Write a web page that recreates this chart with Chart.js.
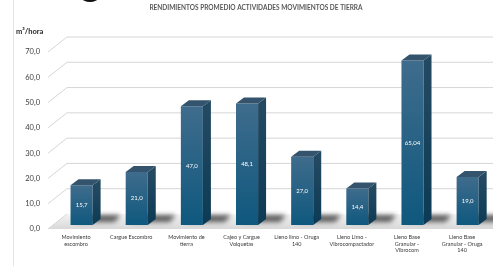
<!DOCTYPE html>
<html>
<head>
<meta charset="utf-8">
<script src="https://cdn.jsdelivr.net/npm/chart.js@4.4.1/dist/chart.umd.min.js"></script>
<style>
  html, body { margin: 0; padding: 0; background: #fff; overflow: hidden; }
  #wrap { position: relative; width: 497px; height: 266px; }
</style>
</head>
<body>
<div id="wrap"><canvas id="chart"></canvas></div>
<script>
// chart data
const categories = [
  ['Movimiento', 'escombro'],
  ['Cargue Escombro'],
  ['Movimiento de', 'tierra'],
  ['Cajeo y Cargue', 'Volquetas'],
  ['Lleno limo - Oruga', '140'],
  ['Lleno Limo -', 'Vibrocompactador'],
  ['Lleno Base', 'Granular -', 'Vibrocom'],
  ['Lleno Base', 'Granular - Oruga', '140']
];
const rendimiento = [15.7, 21.0, 47.0, 48.1, 27.0, 14.4, 65.04, 19.0];
const yTicks = [0, 10, 20, 30, 40, 50, 60, 70];

const FONT = 'Lato, "Open Sans", sans-serif';
// 3D offsets
const DEPTH = { dx: 19, dy: -15 };   // whole floor/wall depth
const BAR_D = { dx: 8, dy: -6 };     // bar side/top depth
const FRONT = { dx: -5.5, dy: 4 };   // front plane vs bar front face

function fmt(v) {
  const s = Number.isInteger(v) ? v.toFixed(1) : String(v);
  return s.replace('.', ',');
}

const scene3d = {
  id: 'scene3d',
  beforeDraw(chart) {
    const c = chart.ctx;
    c.save();
    // left border line + logo fragment
    c.strokeStyle = '#e4e4e4';
    c.lineWidth = 1;
    c.beginPath(); c.moveTo(13.5, 0); c.lineTo(13.5, 266); c.stroke();
    c.fillStyle = '#111';
    c.beginPath(); c.ellipse(90, -2, 8, 4, 0, 0, Math.PI * 2); c.fill();
    // title texts
    c.fillStyle = '#595959';
    c.font = 'bold 6.5px ' + FONT;
    c.textAlign = 'center'; c.textBaseline = 'middle';
    c.fillText('RENDIMIENTOS PROMEDIO ACTIVIDADES MOVIMIENTOS DE TIERRA', 256, 8);
    c.fillStyle = '#262626';
    c.font = 'bold 7.5px ' + FONT;
    c.textAlign = 'left';
    c.fillText('m³/hora', 16, 31.5);
    c.restore();
  },
  beforeDatasetsDraw(chart) {
    const c = chart.ctx;
    const ys = chart.scales.y;
    const xs = chart.scales.x;
    const W = chart.width;
    const fx = 48;
    c.save();
    // floor
    const y0 = ys.getPixelForValue(0) + FRONT.dy;
    const fg = c.createLinearGradient(0, y0 + DEPTH.dy, 0, y0);
    fg.addColorStop(0, '#f4f4f4');
    fg.addColorStop(1, '#d8d8d8');
    c.fillStyle = fg;
    c.beginPath();
    c.moveTo(fx, y0);
    c.lineTo(fx + DEPTH.dx, y0 + DEPTH.dy);
    c.lineTo(W, y0 + DEPTH.dy);
    c.lineTo(W, y0);
    c.closePath();
    c.fill();
    // bar shadows on floor
    c.filter = 'blur(2.5px)';
    c.fillStyle = 'rgba(40,40,40,0.75)';
    const meta = chart.getDatasetMeta(0);
    meta.data.forEach(bar => {
      const r = bar.x + bar.width / 2;
      const l = bar.x - bar.width / 2;
      const b = bar.base;
      c.beginPath();
      c.moveTo(l + 4, b - 3);
      c.lineTo(r + 22, b - 3);
      c.lineTo(r + 28, b - 10);
      c.lineTo(l + 10, b - 10);
      c.closePath();
      c.fill();
    });
    c.filter = 'none';
    // grid lines: diagonal on the side + horizontal on the back wall
    c.strokeStyle = '#d6d6d6';
    c.lineWidth = 1;
    yTicks.forEach(v => {
      const y = ys.getPixelForValue(v) + FRONT.dy;
      c.beginPath();
      c.moveTo(fx, y);
      c.lineTo(fx + DEPTH.dx, y + DEPTH.dy);
      if (v > 0) c.lineTo(W, y + DEPTH.dy);
      c.stroke();
    });
    c.restore();
  },
  afterDatasetsDraw(chart) {
    const c = chart.ctx;
    const meta = chart.getDatasetMeta(0);
    c.save();
    meta.data.forEach((bar, i) => {
      const l = bar.x - bar.width / 2;
      const r = bar.x + bar.width / 2;
      const t = bar.y;
      const b = bar.base;
      // side face
      const sg = c.createLinearGradient(0, t, 0, b);
      sg.addColorStop(0, '#244a62');
      sg.addColorStop(1, '#0c3a54');
      c.fillStyle = sg;
      c.beginPath();
      c.moveTo(r, t);
      c.lineTo(r + BAR_D.dx, t + BAR_D.dy);
      c.lineTo(r + BAR_D.dx, b + BAR_D.dy);
      c.lineTo(r, b);
      c.closePath();
      c.fill();
      // top face
      c.fillStyle = '#33546c';
      c.beginPath();
      c.moveTo(l, t);
      c.lineTo(l + BAR_D.dx, t + BAR_D.dy);
      c.lineTo(r + BAR_D.dx, t + BAR_D.dy);
      c.lineTo(r, t);
      c.closePath();
      c.fill();
      // value label
      c.fillStyle = '#ffffff';
      c.font = '6px ' + FONT;
      c.textAlign = 'center';
      c.textBaseline = 'middle';
      c.fillText(fmt(rendimiento[i]), bar.x, (t + b) / 2);
    });
    c.restore();
  }
};

new Chart(document.getElementById('chart'), {
  type: 'bar',
  data: {
    labels: categories,
    datasets: [{
      data: rendimiento,
      backgroundColor(ctx) {
        const chart = ctx.chart;
        const ys = chart.scales.y;
        if (!chart.chartArea || !ys) return '#1a5b80';
        const top = ys.getPixelForValue(ctx.raw);
        const bot = ys.getPixelForValue(0);
        const g = chart.ctx.createLinearGradient(0, top, 0, bot);
        g.addColorStop(0, '#3f6c8c');
        g.addColorStop(1, '#0f587e');
        return g;
      },
      borderWidth: 0,
      categoryPercentage: 1,
      barPercentage: 0.4
    }]
  },
  options: {
    responsive: true,
    maintainAspectRatio: false,
    animation: false,
    layout: { padding: { top: 48, left: 0, right: 0, bottom: 0 } },
    plugins: {
      legend: { display: false },
      tooltip: { enabled: false }
    },
    scales: {
      x: {
        grid: { display: false, drawTicks: false },
        border: { display: false },
        afterFit(scale) { scale.height = 41; },
        ticks: {
          autoSkip: false,
          maxRotation: 0,
          minRotation: 0,
          padding: 9,
          labelOffset: FRONT.dx,
          color: '#3a3a3a',
          font: { family: FONT, size: 5.5 },
          lineHeight: 1.45
        }
      },
      y: {
        min: 0,
        max: 70,
        afterFit(scale) { scale.width = 54; },
        afterBuildTicks(scale) { scale.ticks = yTicks.map(v => ({ value: v })); },
        grid: { display: false, drawTicks: false },
        border: { display: false },
        ticks: {
          padding: 14,
          labelOffset: FRONT.dy,
          color: '#404040',
          font: { family: FONT, size: 7.5 },
          callback: v => v.toFixed(1).replace('.', ',')
        }
      }
    }
  },
  plugins: [scene3d]
});
</script>
</body>
</html>
